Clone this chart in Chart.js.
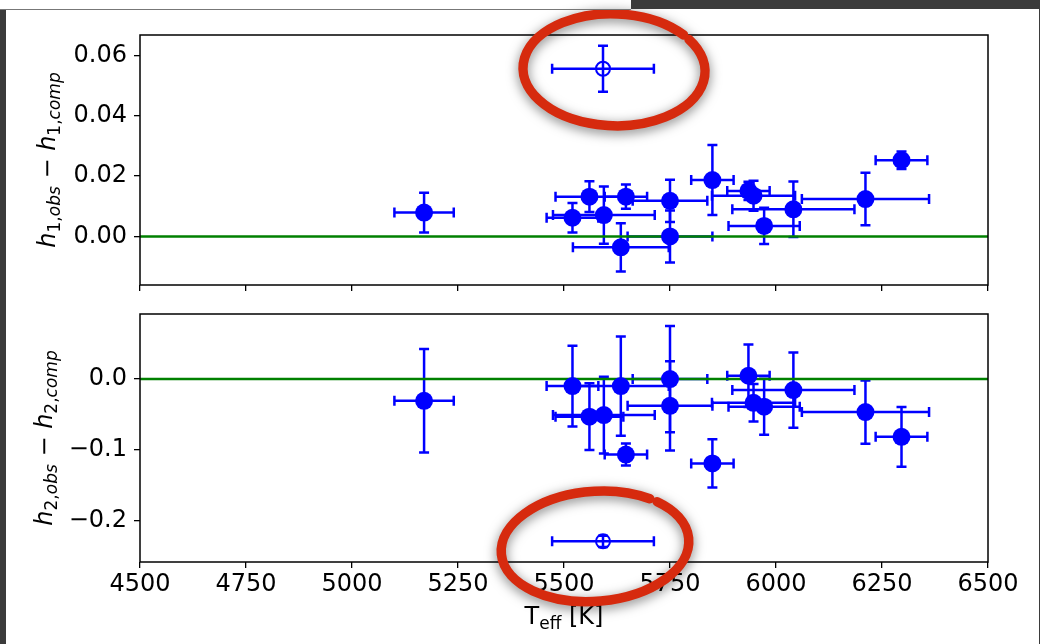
<!DOCTYPE html>
<html>
<head>
<meta charset="utf-8">
<script src="https://cdn.jsdelivr.net/npm/chart.js@4.4.0/dist/chart.umd.min.js"></script>
<style>
  body { margin: 0; background: #fff; width: 1040px; height: 644px; overflow: hidden; position: relative; }
  canvas { position: absolute; left: 0; }
  #top { top: 0; }
  #bottom { top: 300px; }
  .fr { position: absolute; background: #3b3b3b; z-index: 5; }
</style>
</head>
<body>
<canvas id="top" width="1040" height="300"></canvas>
<canvas id="bottom" width="1040" height="344"></canvas>
<div class="fr" style="left:0;top:9px;width:6px;height:635px"></div>
<div class="fr" style="left:631px;top:0;width:409px;height:9px"></div>
<div class="fr" style="left:0;top:9px;width:631px;height:1px;background:#777"></div>
<div class="fr" style="left:1039px;top:0;width:1px;height:644px"></div>
<script>
// stars
const teff    = [5170, 5520, 5560, 5594, 5634, 5646, 5750, 5750, 5850, 5935, 5947, 5972, 6041, 6211, 6296];
const teffErr = [70, 61, 80, 120, 113, 50, 88, 100, 50, 50, 98, 84, 144, 150, 61];
const dh1     = [0.0079, 0.0062, 0.0132, 0.0071, -0.0036, 0.0132, 0.0118, 0.0000, 0.0187, 0.0151, 0.0135, 0.0035, 0.0090, 0.0124, 0.0253];
const dh1Err  = [0.0066, 0.0049, 0.0051, 0.0095, 0.0080, 0.0040, 0.0070, 0.0086, 0.0116, 0.0030, 0.0050, 0.0060, 0.0092, 0.0087, 0.0029];
const dh2     = [-0.0306, -0.0099, -0.0530, -0.0508, -0.0099, -0.1064, 0.0000, -0.0377, -0.1190, 0.0047, -0.0334, -0.0390, -0.0155, -0.0466, -0.0815];
const dh2Err  = [0.073, 0.057, 0.047, 0.054, 0.070, 0.0155, 0.075, 0.063, 0.034, 0.044, 0.0266, 0.0396, 0.053, 0.0445, 0.042];

// the circled outlier
const outTeff    = [5592];
const outTeffErr = [120];
const outDh1     = [0.0556];
const outDh1Err  = [0.0076];
const outDh2     = [-0.2288];
const outDh2Err  = [0.008];

const xTicks  = [4500, 4750, 5000, 5250, 5500, 5750, 6000, 6250, 6500];
const y1Ticks = [0.00, 0.02, 0.04, 0.06];
const y2Ticks = [-0.2, -0.1, 0.0];

const BLUE = '#0000ff';
const FONT = '"DejaVu Sans"';

function drawMath(ctx, parts, cx, baseY) {
  let w = 0;
  parts.forEach(p => { ctx.font = p.font; p.w = ctx.measureText(p.t).width; w += p.w; });
  let x = cx - w / 2;
  ctx.textAlign = 'left';
  ctx.textBaseline = 'alphabetic';
  ctx.fillStyle = '#000';
  parts.forEach(p => { ctx.font = p.font; ctx.fillText(p.t, x, baseY + (p.dy || 0)); x += p.w; });
}

function yLabel(n) {
  const it = 'italic 24px ' + FONT, up = '24px ' + FONT;
  const sit = 'italic 17px ' + FONT, sup = '17px ' + FONT;
  return [
    {t: 'h', font: it}, {t: n, font: sup, dy: 5}, {t: ',', font: sup, dy: 5}, {t: 'obs', font: sit, dy: 5},
    {t: ' \u2212 ', font: up},
    {t: 'h', font: it}, {t: n, font: sup, dy: 5}, {t: ',', font: sup, dy: 5}, {t: 'comp', font: sit, dy: 5}
  ];
}

const errorBars = {
  id: 'errorBars',
  beforeDatasetsDraw(chart, args, opts) {
    const {ctx, scales: {x, y}} = chart;
    ctx.save();
    ctx.strokeStyle = BLUE;
    ctx.lineWidth = 2.5;
    opts.sets.forEach(s => {
      s.x.forEach((xv, i) => {
        const px = x.getPixelForValue(xv), py = y.getPixelForValue(s.y[i]);
        const x0 = x.getPixelForValue(xv - s.xe[i]), x1 = x.getPixelForValue(xv + s.xe[i]);
        const y0 = y.getPixelForValue(s.y[i] - s.ye[i]), y1 = y.getPixelForValue(s.y[i] + s.ye[i]);
        ctx.beginPath();
        ctx.moveTo(x0, py); ctx.lineTo(x1, py);
        ctx.moveTo(px, y0); ctx.lineTo(px, y1);
        ctx.moveTo(x0, py - 5); ctx.lineTo(x0, py + 5);
        ctx.moveTo(x1, py - 5); ctx.lineTo(x1, py + 5);
        ctx.moveTo(px - 5, y0); ctx.lineTo(px + 5, y0);
        ctx.moveTo(px - 5, y1); ctx.lineTo(px + 5, y1);
        ctx.stroke();
      });
    });
    ctx.restore();
  }
};

const frameAndText = {
  id: 'frameAndText',
  afterDraw(chart, args, opts) {
    const {ctx, chartArea: a, scales: {x, y}} = chart;
    ctx.save();
    ctx.strokeStyle = '#000';
    ctx.lineWidth = 1.5;
    ctx.strokeRect(a.left, a.top, a.right - a.left, a.bottom - a.top);

    // y label, rotated
    ctx.save();
    ctx.translate(opts.yLabelX, (a.top + a.bottom) / 2);
    ctx.rotate(-Math.PI / 2);
    drawMath(ctx, yLabel(opts.n), 0, 0);
    ctx.restore();

    if (opts.xTitle) {
      drawMath(ctx, [
        {t: 'T', font: '24px ' + FONT},
        {t: 'eff', font: '17px ' + FONT, dy: 5},
        {t: ' [K]', font: '24px ' + FONT}
      ], (a.left + a.right) / 2, opts.xTitleY);
    }

    // red hand-drawn ring around the outlier
    const r = opts.ring;
    const cx = x.getPixelForValue(r.x) + r.dx, cy = y.getPixelForValue(r.y) + r.dy;
    ctx.shadowColor = 'rgba(0,0,0,0.5)';
    ctx.shadowBlur = 12;
    ctx.shadowOffsetY = 3;
    ctx.filter = 'blur(0.7px)';
    ctx.strokeStyle = 'rgb(214,42,14)';
    ctx.lineWidth = 9.5;
    ctx.lineCap = 'round';
    ctx.beginPath();
    ctx.ellipse(cx, cy, r.rx, r.ry, r.rot, r.gap + 0.1, r.gap + 2 * Math.PI);
    ctx.stroke();
    ctx.restore();
  }
};

function makePanel(id, o) {
  const tickFont = {family: FONT, size: 24};
  return new Chart(document.getElementById(id), {
    type: 'scatter',
    data: {
      datasets: [
        {
          type: 'line',
          data: [{x: xTicks[0], y: 0}, {x: xTicks[xTicks.length - 1], y: 0}],
          borderColor: '#008000', borderWidth: 2.5, pointRadius: 0, order: 2
        },
        {
          data: teff.map((t, i) => ({x: t, y: o.vals[i]})),
          backgroundColor: BLUE, borderColor: BLUE, pointRadius: 9, borderWidth: 0, order: 1
        },
        {
          data: outTeff.map((t, i) => ({x: t, y: o.out[i]})),
          backgroundColor: 'rgba(0,0,0,0)', borderColor: BLUE, pointRadius: 7, borderWidth: 2, order: 1
        }
      ]
    },
    options: {
      responsive: false,
      animation: false,
      events: [],
      layout: {padding: {top: o.padTop, right: 52, left: 0, bottom: 0}},
      plugins: {
        legend: {display: false},
        tooltip: {enabled: false},
        errorBars: {sets: [
          {x: teff, xe: teffErr, y: o.vals, ye: o.errs},
          {x: outTeff, xe: outTeffErr, y: o.out, ye: o.outErr}
        ]},
        frameAndText: {n: o.n, yLabelX: o.yLabelX, xTitle: o.showX, xTitleY: 324,
          ring: Object.assign({x: outTeff[0], y: o.out[0]}, o.ring)}
      },
      scales: {
        x: {
          type: 'linear', min: xTicks[0], max: xTicks[xTicks.length - 1],
          afterBuildTicks: s => { s.ticks = xTicks.map(v => ({value: v})); },
          afterFit: s => { s.height = o.xHeight; s.paddingLeft = 0; s.paddingRight = 0; },
          ticks: {display: o.showX, font: tickFont, color: '#000', padding: 2, maxRotation: 0, autoSkip: false,
            callback: v => String(v)},
          grid: {drawOnChartArea: false, tickLength: 6, color: '#000', lineWidth: 1.3},
          border: {display: false}
        },
        y: {
          type: 'linear', min: o.yMin, max: o.yMax,
          afterBuildTicks: s => { s.ticks = o.yTicks.map(v => ({value: v})); },
          afterFit: s => { s.width = 140; s.paddingTop = 0; s.paddingBottom = 0; },
          ticks: {font: tickFont, color: '#000', padding: 7, callback: o.fmt},
          grid: {drawOnChartArea: false, tickLength: 6, color: '#000', lineWidth: 1.3},
          border: {display: false}
        }
      }
    },
    plugins: [errorBars, frameAndText]
  });
}

makePanel('top', {
  n: '1', vals: dh1, errs: dh1Err, out: outDh1, outErr: outDh1Err,
  yMin: -0.0161, yMax: 0.0668, yTicks: y1Ticks, fmt: v => v.toFixed(2),
  padTop: 35, xHeight: 15, showX: false, yLabelX: 55,
  ring: {dx: 11, dy: 1, rx: 91, ry: 56, rot: 0.03, gap: -0.72}
});

makePanel('bottom', {
  n: '2', vals: dh2, errs: dh2Err, out: outDh2, outErr: outDh2Err,
  yMin: -0.258, yMax: 0.0918, yTicks: y2Ticks, fmt: v => v.toFixed(1).replace('-', '\u2212'),
  padTop: 14, xHeight: 82, showX: true, yLabelX: 52,
  ring: {dx: -8, dy: 5, rx: 94, ry: 55, rot: -0.08, gap: -0.9}
});
</script>
</body>
</html>
